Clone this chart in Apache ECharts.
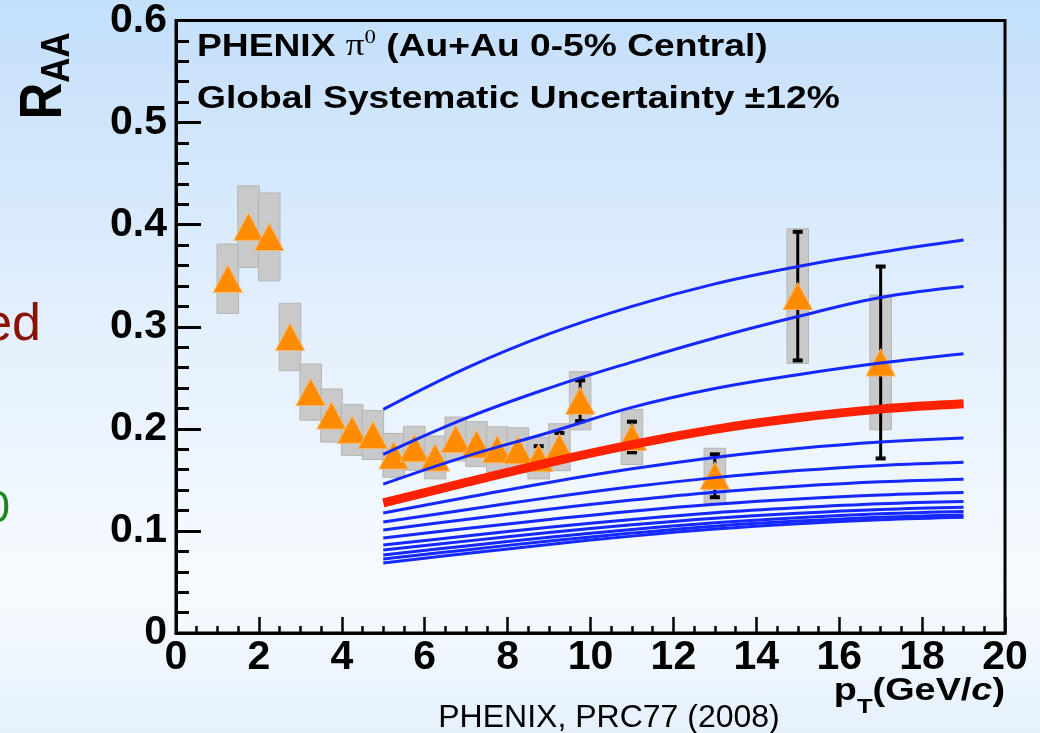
<!DOCTYPE html>
<html>
<head>
<meta charset="utf-8">
<script src="https://cdn.jsdelivr.net/npm/echarts@6/dist/echarts.min.js"></script>
<style>
  html, body { margin: 0; padding: 0; }
  body { width: 1040px; height: 733px; overflow: hidden;
         background: linear-gradient(to bottom, #c3dffa 0%, #e4f0fd 45%, #f7fbff 80%, #e6f1fc 100%); }
  #chart { width: 1040px; height: 733px; }
</style>
</head>
<body>
<div id="chart"></div>
<script>
// ---------------- data ----------------
const xTicks = [0, 2, 4, 6, 8, 10, 12, 14, 16, 18, 20];
const yTicks = [0, 0.1, 0.2, 0.3, 0.4, 0.5, 0.6];

// PHENIX pi0 RAA points
const ptX   = [1.25, 1.75, 2.25, 2.75, 3.25, 3.75, 4.25, 4.75, 5.25, 5.75, 6.25, 6.75, 7.25, 7.75, 8.25, 8.75, 9.25, 9.75, 11, 13, 15, 17];
const ptY   = [0.347, 0.398, 0.388, 0.290, 0.236, 0.213, 0.199, 0.194, 0.174, 0.181, 0.172, 0.190, 0.185, 0.180, 0.179, 0.1715, 0.182, 0.2275, 0.192, 0.154, 0.330, 0.265];
const sysErr  = [0.034, 0.040, 0.043, 0.033, 0.0275, 0.026, 0.025, 0.024, 0.0215, 0.0215, 0.021, 0.0215, 0.022, 0.022, 0.022, 0.0205, 0.023, 0.0285, 0.027, 0.027, 0.066, 0.066];
const statErr = [0.003, 0.003, 0.003, 0.003, 0.003, 0.003, 0.003, 0.003, 0.003, 0.003, 0.003, 0.003, 0.003, 0.003, 0.003, 0.0115, 0.014, 0.020, 0.015, 0.021, 0.063, 0.094];

// model curves
const curveX = [5, 7, 9, 11, 13, 15, 17, 19];
const blue1  = [0.219, 0.2595, 0.293, 0.320, 0.342, 0.359, 0.373, 0.385];
const blue2  = [0.175, 0.2105, 0.2399, 0.2654, 0.289, 0.310, 0.3287, 0.3395];
const blue3  = [0.1458, 0.173, 0.1964, 0.221, 0.2395, 0.253, 0.2644, 0.2735];
const red    = [0.1275, 0.1475, 0.167, 0.1845, 0.1995, 0.2108, 0.2193, 0.2245];
const blue4  = [0.1176, 0.1327, 0.1475, 0.1608, 0.172, 0.1807, 0.1871, 0.191];
const blue5  = [0.1088, 0.1208, 0.1326, 0.1432, 0.1522, 0.1591, 0.1642, 0.1673];
const blue6  = [0.101, 0.1112, 0.1212, 0.1302, 0.1379, 0.1437, 0.1481, 0.1507];
const blue7  = [0.0931, 0.1023, 0.1112, 0.1193, 0.1261, 0.1313, 0.1352, 0.1376];
const blue8  = [0.0863, 0.0950, 0.1036, 0.1112, 0.1178, 0.1227, 0.1265, 0.1287];
const blue9  = [0.0814, 0.0900, 0.0984, 0.1060, 0.1124, 0.1173, 0.1210, 0.1232];
const blue10 = [0.0765, 0.0853, 0.0938, 0.1015, 0.1080, 0.1130, 0.1167, 0.1190];
const blue11 = [0.0725, 0.0814, 0.0901, 0.0979, 0.1046, 0.1096, 0.1134, 0.1157];
const blue12 = [0.0686, 0.0778, 0.0868, 0.0949, 0.1018, 0.1071, 0.1110, 0.1134];
const blueCurves = [blue1, blue2, blue3, blue4, blue5, blue6, blue7, blue8, blue9, blue10, blue11, blue12];

// ---------------- chart ----------------
const chart = echarts.init(document.getElementById('chart'), null, { renderer: 'canvas' });
const F = 'Liberation Sans, Arial, sans-serif';
const zip = (ys) => curveX.map((x, i) => [x, ys[i]]);

const series = [];
series.push({
  type: 'custom', z: 2,
  data: ptX.map((x, i) => [x, ptY[i], sysErr[i], statErr[i]]),
  renderItem: function (params, api) {
    const x = api.value(0), y = api.value(1), s = api.value(2), e = api.value(3);
    const tl = api.coord([x - 0.26, y + s]);
    const br = api.coord([x + 0.26, y - s]);
    const top = api.coord([x, y + e]);
    const bot = api.coord([x, y - e]);
    return {
      type: 'group',
      children: [
        { type: 'rect', shape: { x: tl[0], y: tl[1], width: br[0] - tl[0], height: br[1] - tl[1] },
          style: { fill: '#c9c9c9', stroke: '#b5b5b5', lineWidth: 1 } },
        { type: 'line', shape: { x1: top[0], y1: top[1], x2: bot[0], y2: bot[1] }, style: { stroke: '#000', lineWidth: 3 } },
        { type: 'line', shape: { x1: top[0] - 5, y1: top[1], x2: top[0] + 5, y2: top[1] }, style: { stroke: '#000', lineWidth: 4 } },
        { type: 'line', shape: { x1: bot[0] - 5, y1: bot[1], x2: bot[0] + 5, y2: bot[1] }, style: { stroke: '#000', lineWidth: 4 } }
      ]
    };
  }
});
series.push({
  type: 'scatter', z: 3,
  symbol: 'triangle', symbolSize: [29, 27],
  itemStyle: { color: '#ff8c00', borderColor: '#ffb25c', borderWidth: 1, opacity: 1 },
  data: ptX.map((x, i) => [x, ptY[i]])
});
blueCurves.forEach((c) => {
  series.push({
    type: 'line', z: 5, smooth: 0.4, showSymbol: false, silent: true,
    lineStyle: { color: '#1428ff', width: 3 },
    data: zip(c)
  });
});
series.push({
  type: 'line', z: 6, smooth: 0.4, showSymbol: false, silent: true,
  lineStyle: { color: '#ff2200', width: 9 },
  data: zip(red)
});

const option = {
  animation: false,
  backgroundColor: 'transparent',
  grid: { left: 176, right: 35, top: 20, bottom: 100, show: true, borderColor: '#000', borderWidth: 3, backgroundColor: 'transparent' },
  xAxis: {
    type: 'value', min: xTicks[0], max: xTicks[xTicks.length - 1], interval: 2,
    axisLine: { show: true, lineStyle: { color: '#000', width: 3 } },
    axisTick: { show: true, inside: true, length: 16, lineStyle: { color: '#000', width: 2.5 } },
    minorTick: { show: true, splitNumber: 4, length: 7, lineStyle: { color: '#000', width: 2.5 } },
    splitLine: { show: false },
    axisLabel: { color: '#000', fontSize: 41, fontWeight: 'bold', fontFamily: F, margin: 4 }
  },
  yAxis: {
    type: 'value', min: yTicks[0], max: yTicks[yTicks.length - 1], interval: 0.1,
    axisLine: { show: true, lineStyle: { color: '#000', width: 3 } },
    axisTick: { show: true, inside: true, length: 25, lineStyle: { color: '#000', width: 3 } },
    minorTick: { show: true, splitNumber: 5, length: 13, lineStyle: { color: '#000', width: 3 } },
    splitLine: { show: false },
    axisLabel: { color: '#000', fontSize: 41, fontWeight: 'bold', fontFamily: F, margin: 9 }
  },
  graphic: [
    { type: 'text', x: 197, y: 47, scaleX: 1.2, z: 10,
      style: { text: '{b|PHENIX }{pi|π}{sup|0}{b| (Au+Au 0-5% Central)}', align: 'left', verticalAlign: 'middle',
        rich: {
          b: { fontSize: 31, fontWeight: 'bold', fontFamily: F, fill: '#000', lineHeight: 36 },
          pi: { fontSize: 31, fontFamily: 'Liberation Serif, serif', fill: '#000', lineHeight: 36 },
          sup: { fontSize: 19, fontFamily: 'Liberation Serif, serif', fill: '#000', lineHeight: 36, verticalAlign: 'top' }
        } } },
    { type: 'text', x: 197, y: 99, scaleX: 1.2, z: 10,
      style: { text: 'Global Systematic Uncertainty ±12%', align: 'left', verticalAlign: 'middle',
        fontSize: 31, fontWeight: 'bold', fontFamily: F, fill: '#000' } },
    { type: 'text', x: 46, y: 76, rotation: Math.PI / 2, scaleX: 0.85, z: 10,
      style: { text: '{r|R}{s|AA}', align: 'center', verticalAlign: 'middle',
        rich: {
          r: { fontSize: 60, fontWeight: 'bold', fontFamily: F, fill: '#000', lineHeight: 64, verticalAlign: 'top' },
          s: { fontSize: 41, fontWeight: 'bold', fontFamily: F, fill: '#000', lineHeight: 64, verticalAlign: 'bottom' }
        } } },
    { type: 'text', x: 1005, y: 697, scaleX: 1.22, z: 10,
      style: { text: '{b|p}{sub|T}{b|(GeV/}{i|c}{b|)}', align: 'right', verticalAlign: 'middle',
        rich: {
          b: { fontSize: 31, fontWeight: 'bold', fontFamily: F, fill: '#000', lineHeight: 42, verticalAlign: 'top' },
          i: { fontSize: 31, fontWeight: 'bold', fontStyle: 'italic', fontFamily: F, fill: '#000', lineHeight: 42, verticalAlign: 'top' },
          sub: { fontSize: 21, fontWeight: 'bold', fontFamily: F, fill: '#000', lineHeight: 42, verticalAlign: 'bottom' }
        } } },
    { type: 'text', x: 609, y: 718, z: 10,
      style: { text: 'PHENIX, PRC77 (2008)', align: 'center', verticalAlign: 'middle',
        fontSize: 32, fontFamily: F, fill: '#000' } },
    { type: 'text', x: 41, y: 326, z: 10,
      style: { text: 'ed', align: 'right', verticalAlign: 'middle', fontSize: 52, fontFamily: F, fill: '#8a1205' } },
    { type: 'text', x: 10, y: 510, z: 10,
      style: { text: '0', align: 'right', verticalAlign: 'middle', fontSize: 45, fontFamily: F, fill: '#1a8a1a' } }
  ],
  series: series
};
chart.setOption(option);
</script>
</body>
</html>
